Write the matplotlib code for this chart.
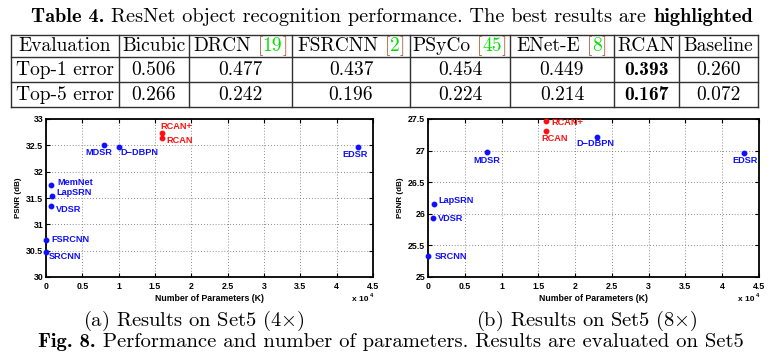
import matplotlib
matplotlib.use('Agg')
import matplotlib.pyplot as plt
from matplotlib.ticker import FuncFormatter, MultipleLocator

# ---------------- data ----------------
table_title_bold = "Table 4."
table_title_text = "ResNet object recognition performance. The best results are"
table_title_bold2 = "highlighted"
col_names = ["Evaluation", "Bicubic", "DRCN", "FSRCNN", "PSyCo", "ENet-E", "RCAN", "Baseline"]
col_refs = ["", "", "19", "2", "45", "8", "", ""]
row_names = ["Top-1 error", "Top-5 error"]
top1 = [0.506, 0.477, 0.437, 0.454, 0.449, 0.393, 0.260]
top5 = [0.266, 0.242, 0.196, 0.224, 0.214, 0.167, 0.072]
best_method = "RCAN"

methods_4x = ["SRCNN", "FSRCNN", "VDSR", "LapSRN", "MemNet", "MDSR", "D\u2212DBPN", "RCAN", "RCAN+", "EDSR"]
params_4x = [57, 12, 665, 812, 677, 8000, 10000, 16000, 16000, 43000]
psnr_4x = [30.48, 30.71, 31.35, 31.54, 31.74, 32.50, 32.47, 32.63, 32.73, 32.46]

methods_8x = ["SRCNN", "VDSR", "LapSRN", "MDSR", "D\u2212DBPN", "RCAN", "RCAN+", "EDSR"]
params_8x = [57, 665, 812, 8000, 23000, 16000, 16000, 43000]
psnr_8x = [25.33, 25.93, 26.15, 26.97, 27.21, 27.31, 27.47, 26.96]

highlight_methods = ["RCAN", "RCAN+"]

caption_a = "(a) Results on Set5 (4$\\times$)"
caption_b = "(b) Results on Set5 (8$\\times$)"
fig_caption_bold = "Fig. 8."
fig_caption_text = "Performance and number of parameters. Results are evaluated on Set5"

# ---------------- style / layout ----------------
W, H, DPI = 770, 353, 100
plt.rcParams['mathtext.fontset'] = 'cm'
SERIF = 'cmr10'
SERIF_B = 'cmb10'
SANS = 'Liberation Sans'
BLUE = '#1010ff'
RED = '#ff1010'

fig = plt.figure(figsize=(W / DPI, H / DPI), dpi=DPI)
ov = fig.add_axes([0, 0, 1, 1])
ov.set_xlim(0, W)
ov.set_ylim(H, 0)
ov.axis('off')
ov.patch.set_visible(False)
renderer = fig.canvas.get_renderer()


def draw_segments(x, y, segs, size, ha='center', target=None):
    """segs: list of (text, family, color, gap_after_em)"""
    texts = []
    for s, fam, col, gap in segs:
        t = ov.text(0, y, s, fontsize=size, family=fam, color=col, va='baseline', ha='left')
        texts.append((t, gap))

    def layout(sz):
        xs = []
        cur = 0.0
        for t, gap in texts:
            t.set_fontsize(sz)
            w = t.get_window_extent(renderer=renderer).width
            xs.append(cur)
            cur += w + gap * sz * DPI / 72.0
        return xs, cur

    xs, total = layout(size)
    if target is not None:
        size = size * target / total
        xs, total = layout(size)
    x0 = x - total / 2 if ha == 'center' else x
    for (t, _), xx in zip(texts, xs):
        t.set_x(x0 + xx)
    return size


# ---- table title ----
draw_segments(392, 22, [(table_title_bold, SERIF_B, 'k', 0.333),
                        (table_title_text, SERIF, 'k', 0.333),
                        (table_title_bold2, SERIF_B, 'k', 0)], 13, target=720)

# ---- table grid ----
col_x = [11, 119, 189, 292, 410, 510, 614, 679, 758]
row_y = [35, 57, 82, 107]
lc = '#303030'
for yy in row_y:
    ov.plot([col_x[0], col_x[-1]], [yy, yy], color=lc, lw=1.0)
for xx in col_x:
    ov.plot([xx, xx], [row_y[0], row_y[-1]], color=lc, lw=1.0)

fs_tab = 14.0
base_y = [51, 75, 100]
for i, (name, ref) in enumerate(zip(col_names, col_refs)):
    cx = (col_x[i] + col_x[i + 1]) / 2
    if ref:
        draw_segments(cx, base_y[0], [(name, SERIF, 'k', 0.333), ("[", SERIF, '#a0522d', 0),
                                      (ref, SERIF, '#00e000', 0), ("]", SERIF, '#a0522d', 0)], fs_tab)
    else:
        draw_segments(cx, base_y[0], [(name, SERIF, 'k', 0)], fs_tab)

for r, (rname, vals) in enumerate(zip(row_names, [top1, top5])):
    y = base_y[r + 1]
    draw_segments((col_x[0] + col_x[1]) / 2, y, [(rname, SERIF, 'k', 0)], fs_tab)
    for j, v in enumerate(vals):
        cx = (col_x[j + 1] + col_x[j + 2]) / 2
        fam = SERIF_B if col_names[j + 1] == best_method else SERIF
        draw_segments(cx, y, [(f"{v:.3f}", fam, 'k', 0)], fs_tab)

# ---- captions ----
draw_segments(194, 326, [(caption_a, SERIF, 'k', 0)], 14, target=222)
draw_segments(587, 326, [(caption_b, SERIF, 'k', 0)], 14, target=222)
draw_segments(391, 347, [(fig_caption_bold, SERIF_B, 'k', 0.333),
                         (fig_caption_text, SERIF, 'k', 0)], 14, target=702)

# ---------------- scatter plots ----------------
px2pt = 72.0 / DPI
# label offsets in pixels (dx, dy down), ha
offs_4x = [(2, 5, 'left'), (5, 0, 'left'), (5, 4, 'left'), (4, -3, 'left'), (6, -3, 'left'),
           (-5, 7, 'center'), (2, 6, 'left'), (4, 2, 'left'), (-2, -7, 'left'), (-3, 7, 'center')]
offs_8x = [(6, 0, 'left'), (5, 0, 'left'), (4, -4, 'left'), (0, 8, 'center'), (-2, 6, 'center'),
           (9, 7, 'center'), (6, 2, 'left'), (1, 7, 'center')]

FS_TICK = 6.3


def make_plot(rect, methods, params, psnr, offs, ylim, ystep):
    ax = fig.add_axes(rect)
    ax.set_xlim(0, 45000)
    ax.set_ylim(*ylim)
    ax.xaxis.set_major_locator(MultipleLocator(5000))
    ax.yaxis.set_major_locator(MultipleLocator(ystep))
    ax.xaxis.set_major_formatter(FuncFormatter(lambda v, p: f"{v / 1e4:g}"))
    ax.yaxis.set_major_formatter(FuncFormatter(lambda v, p: f"{v:g}"))
    ax.grid(True, color='#666666', linestyle=(0, (1, 2.5)), linewidth=0.6)
    ax.set_axisbelow(True)
    for sp in ax.spines.values():
        sp.set_linewidth(1.3)
    ax.tick_params(direction='in', length=3, width=0.8, top=True, right=True,
                   labelsize=FS_TICK, pad=2)
    ax.tick_params(axis='x', pad=3.5)
    for lab in ax.get_xticklabels() + ax.get_yticklabels():
        lab.set_fontweight('bold')
        lab.set_family(SANS)
    ax.set_xlabel("Number of Parameters (K)", fontsize=FS_TICK, fontweight='bold', family=SANS, labelpad=2)
    ax.set_ylabel("PSNR (dB)", fontsize=FS_TICK - 0.5, fontweight='bold', family=SANS, labelpad=3)
    for m, xv, yv, (dx, dy, ha) in zip(methods, params, psnr, offs):
        col = RED if m in highlight_methods else BLUE
        ax.plot([xv], [yv], 'o', color=col, markersize=3.2, clip_on=False, zorder=5)
        ax.annotate(m, (xv, yv), xytext=(dx * px2pt, -dy * px2pt), textcoords='offset points',
                    ha=ha, va='center', color=col, fontsize=6.6, fontweight='bold', family=SANS,
                    annotation_clip=False)
    ax.text(0.96, -0.14, "x 10", transform=ax.transAxes, fontsize=6, fontweight='bold',
            family=SANS, ha='center', va='center')
    ax.text(0.99, -0.118, "4", transform=ax.transAxes, fontsize=4, fontweight='bold',
            family=SANS, ha='left', va='center')
    return ax


def rect_px(x0, x1, ytop, ybot):
    return [x0 / W, 1 - ybot / H, (x1 - x0) / W, (ybot - ytop) / H]


make_plot(rect_px(46, 373, 119, 277), methods_4x, params_4x, psnr_4x, offs_4x, (30, 33), 0.5)
make_plot(rect_px(428, 759, 119, 277), methods_8x, params_8x, psnr_8x, offs_8x, (25, 27.5), 0.5)

fig.savefig('out.png', dpi=DPI)
